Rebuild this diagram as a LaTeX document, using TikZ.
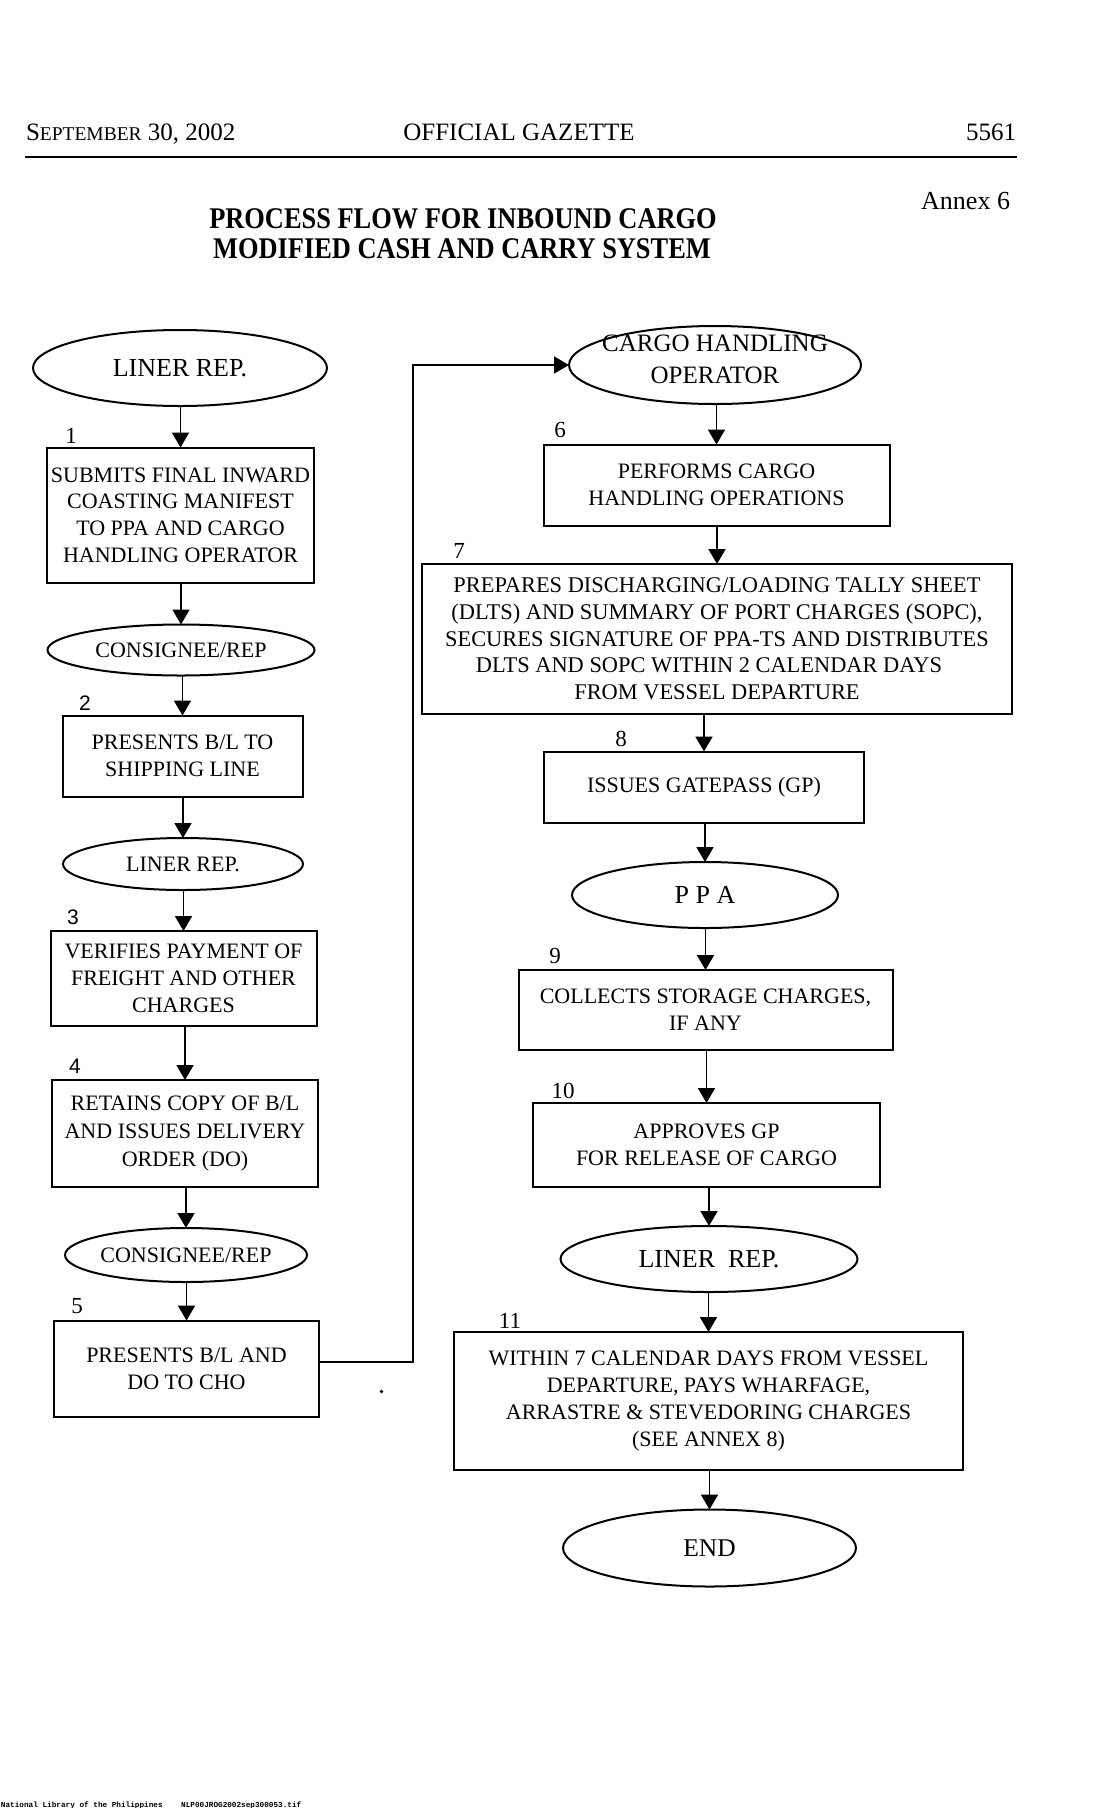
\documentclass[tikz,border=0pt]{standalone}
\usepackage{fontspec}
\setmainfont{Liberation Serif}
\newfontfamily\titlefont[FakeStretch=0.88]{Liberation Serif}
\newfontfamily\numsans{Liberation Sans}
\newfontfamily\footfont{Liberation Mono}
\usetikzlibrary{arrows.meta,shapes.geometric}
\begin{document}
\begin{tikzpicture}[x=1pt,y=-1pt,
  every node/.style={inner sep=0pt, outer sep=0pt},
  box/.style={draw, line width=2pt, rectangle, align=center, font=\fontsize{22}{26.7}\selectfont},
  oval/.style={draw, line width=2pt, ellipse, align=center},
  arr/.style={line width=1.8pt, -{Triangle[length=15pt,width=17pt]}},
  num/.style={font=\fontsize{23}{23}\selectfont},
  snum/.style={font=\numsans\fontsize{21}{21}\selectfont}
]
\useasboundingbox (0,0) rectangle (1096,1808);
\fill[white] (0,0) rectangle (1096,1808);

% header
\node[anchor=base west, font=\fontsize{25}{25}\selectfont] (hdate) at (26,140) {S{\fontsize{19.5}{19.5}\selectfont EPTEMBER} 30, 2002};
\node[anchor=base, font=\fontsize{25}{25}\selectfont] (hgaz) at (519,140) {OFFICIAL GAZETTE};
\node[anchor=base east, font=\fontsize{25}{25}\selectfont] (hpage) at (1016,140) {5561};
\draw[line width=2pt] (25,157) -- (1017,157);
\node[anchor=base east, font=\fontsize{26}{26}\selectfont] (annex) at (1010,209) {Annex 6};
\node[anchor=base, font=\titlefont\bfseries\fontsize{30}{30}\selectfont] (t1) at (463,228) {PROCESS FLOW FOR INBOUND CARGO};
\node[anchor=base, font=\titlefont\bfseries\fontsize{30}{30}\selectfont] (t2) at (462,258) {MODIFIED CASH AND CARRY SYSTEM};

% left column
\node[oval, minimum width=294, minimum height=76, font=\fontsize{26}{26}\selectfont] (e0) at (180,368) {LINER REP.};
\node[box, minimum width=267, minimum height=135] (b1) at (180.5,515) {SUBMITS FINAL INWARD\\COASTING MANIFEST\\TO PPA AND CARGO\\HANDLING OPERATOR};
\node[oval, minimum width=267, minimum height=51, font=\fontsize{22}{22}\selectfont] (e1) at (181,650) {CONSIGNEE/REP};
\node[box, minimum width=240, minimum height=81] (b2) at (182.5,756) {PRESENTS B/L TO\\SHIPPING LINE};
\node[oval, minimum width=240, minimum height=52, font=\fontsize{22}{22}\selectfont] (e2) at (183,864) {LINER REP.};
\node[box, minimum width=266, minimum height=95] (b3) at (183.5,978.5) {VERIFIES PAYMENT OF\\FREIGHT AND OTHER\\CHARGES};
\node[box, minimum width=266, minimum height=107, font=\fontsize{22}{28}\selectfont] (b4) at (185,1133.5) {RETAINS COPY OF B/L\\AND ISSUES DELIVERY\\ORDER (DO)};
\node[oval, minimum width=238, minimum height=54, font=\fontsize{22}{22}\selectfont] (e3) at (186,1255) {CONSIGNEE/REP};
\node[box, minimum width=265, minimum height=96] (b5) at (186.5,1368.5) {PRESENTS B/L AND\\DO TO CHO};

\node[num] (n1) at (71,436) {1};
\node[snum] (n2) at (85,703) {2};
\node[snum] (n3) at (73,917) {3};
\node[snum] (n4) at (75,1066) {4};
\node[num] (n5) at (77,1306) {5};

% right column
\node[oval, minimum width=292, minimum height=78] (e4) at (715,365) {};
\node[align=center, font=\fontsize{25}{31.7}\selectfont] (e4t) at ([yshift=6pt]e4.center) {CARGO HANDLING\\OPERATOR};
\node[box, minimum width=346, minimum height=81] (b6) at (716.5,485) {PERFORMS CARGO\\HANDLING OPERATIONS};
\node[box, minimum width=590, minimum height=150, font=\fontsize{22.4}{26.7}\selectfont] (b7) at (717,639) {PREPARES DISCHARGING/LOADING TALLY SHEET\\(DLTS) AND SUMMARY OF PORT CHARGES (SOPC),\\SECURES SIGNATURE OF PPA-TS AND DISTRIBUTES\\DLTS AND SOPC WITHIN 2 CALENDAR DAYS\rule{16pt}{0pt}\\FROM VESSEL DEPARTURE};
\node[box, minimum width=320, minimum height=71] (b8) at (704,787) {ISSUES GATEPASS (GP)};
\node[oval, minimum width=266, minimum height=66, font=\fontsize{26}{26}\selectfont] (e5) at (705,895) {P P A};
\node[box, minimum width=374, minimum height=80] (b9) at (705.5,1010) {COLLECTS STORAGE CHARGES,\\IF ANY};
\node[box, minimum width=347, minimum height=84] (b10) at (706.5,1145) {APPROVES GP\\FOR RELEASE OF CARGO};
\node[oval, minimum width=297, minimum height=66, font=\fontsize{26}{26}\selectfont] (e6) at (709,1259) {LINER\ \ REP.};
\node[box, minimum width=509, minimum height=138] (b11) at (708.5,1401) {WITHIN 7 CALENDAR DAYS FROM VESSEL\\DEPARTURE, PAYS WHARFAGE,\\ARRASTRE \& STEVEDORING CHARGES\\(SEE ANNEX 8)};
\node[oval, minimum width=293, minimum height=77, font=\fontsize{25.5}{25.5}\selectfont] (e7) at (709.5,1548) {END};

\node[num] (n6) at (560,430) {6};
\node[num] (n7) at (459,551) {7};
\node[num] (n8) at (621,739) {8};
\node[num] (n9) at (555,956) {9};
\node[num] (n10) at (563,1091) {10};
\node[num] (n11) at (510,1321) {11};

% connectors
\draw[arr] (e0.south -| b1.north) -- (b1.north);
\draw[arr] (b1.south -| e1.north) -- (e1.north);
\draw[arr] (e1.south -| b2.north) -- (b2.north);
\draw[arr] (b2.south -| e2.north) -- (e2.north);
\draw[arr] (e2.south -| b3.north) -- (b3.north);
\draw[arr] (b3.south -| b4.north) -- (b4.north);
\draw[arr] (b4.south -| e3.north) -- (e3.north);
\draw[arr] (e3.south -| b5.north) -- (b5.north);
\coordinate (c1) at (413,1362);
\draw[arr] (b5.east |- c1) -- (c1) |- (e4.west);
\draw[arr] (e4.south -| b6.north) -- (b6.north);
\draw[arr] (b6.south -| b7.north) -- (b7.north);
\draw[arr] (b7.south -| b8.north) -- (b8.north);
\draw[arr] (b8.south -| e5.north) -- (e5.north);
\draw[arr] (e5.south -| b9.north) -- (b9.north);
\draw[arr] (b9.south -| b10.north) -- (b10.north);
\draw[arr] (b10.south -| e6.north) -- (e6.north);
\draw[arr] (e6.south -| b11.north) -- (b11.north);
\draw[arr] (b11.south -| e7.north) -- (e7.north);

\fill (381.5,1391.5) circle (1.8pt);

% footer
\node[anchor=base west, font=\footfont\bfseries\fontsize{7.7}{7.7}\selectfont] (foot) at (1,1807) {National Library of the Philippines\ \ \ \ NLP00JROG2002sep300053.tif};
\end{tikzpicture}
\end{document}
